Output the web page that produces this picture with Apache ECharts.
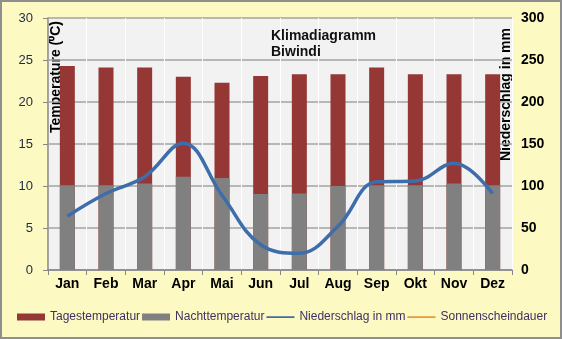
<!DOCTYPE html>
<html>
<head>
<meta charset="utf-8">
<script src="https://cdn.jsdelivr.net/npm/echarts@6/dist/echarts.min.js"></script>
<style>
  html, body { margin: 0; padding: 0; background: #fcf9c3; }
  #wrap { position: relative; width: 562px; height: 339px; }
  #chart { width: 562px; height: 339px; }
  #frame { position: absolute; left: 0; top: 0; width: 562px; height: 339px; box-sizing: border-box; border: 2px solid #8e8e8e; pointer-events: none; }
</style>
</head>
<body>
<div id="wrap"><div id="chart"></div><div id="frame"></div></div>
<script>
// Monthly climate values for Biwindi
const months = ['Jan', 'Feb', 'Mar', 'Apr', 'Mai', 'Jun', 'Jul', 'Aug', 'Sep', 'Okt', 'Nov', 'Dez'];
const dayTemp = [24.3, 24.1, 24.1, 23.0, 22.3, 23.1, 23.3, 23.3, 24.1, 23.3, 23.3, 23.3];
const nightTemp = [10.1, 10.1, 10.3, 11.1, 10.95, 9.05, 9.1, 10.0, 10.1, 10.1, 10.3, 10.1];
const precipitation = [64, 91, 111, 151, 89, 30, 20, 52, 105, 106, 127, 91];
const sunshine = [];
const tempTicks = [0, 5, 10, 15, 20, 25, 30];
const precipTicks = [0, 50, 100, 150, 200, 250, 300];

const chart = echarts.init(document.getElementById('chart'));
const legendFont = { fontFamily: 'Liberation Sans', fontSize: 12, color: '#3f3160' };
// thin stroke icon for line series; tiny corner specks keep the icon box 7px tall
const lineIcon = 'path://M0,0L0.01,0L0,0.01Z M0,2.8H28V4.4H0Z M28,7L27.99,7L28,6.99Z';

chart.setOption({
  backgroundColor: '#fcf9c3',
  animation: false,
  title: {
    text: 'Klimadiagramm\nBiwindi',
    left: 266,
    top: 23,
    textStyle: { fontFamily: 'Liberation Sans', fontSize: 14, fontWeight: 'bold', color: '#111', lineHeight: 16 }
  },
  grid: {
    left: 48, right: 50, top: 18, bottom: 69,
    show: true, backgroundColor: '#f2f2f2', borderWidth: 0
  },
  legend: {
    bottom: 16,
    left: 17,
    width: 545,
    padding: 0,
    itemGap: 2,
    itemWidth: 28,
    itemHeight: 7,
    textStyle: legendFont,
    data: [
      { name: 'Tagestemperatur', icon: 'rect' },
      { name: 'Nachttemperatur', icon: 'rect' },
      { name: 'Niederschlag in mm', icon: lineIcon },
      { name: 'Sonnenscheindauer', icon: lineIcon }
    ]
  },
  xAxis: {
    type: 'category',
    data: months,
    axisLine: { lineStyle: { color: '#868686', width: 1.5 } },
    axisTick: { show: true, length: 5, lineStyle: { color: '#868686' } },
    splitLine: { show: true, lineStyle: { color: '#ffffff', width: 1 } },
    axisLabel: { fontFamily: 'Liberation Sans', fontSize: 14, fontWeight: 'bold', color: '#000', margin: 7 }
  },
  yAxis: [
    {
      type: 'value', min: tempTicks[0], max: tempTicks[tempTicks.length - 1], interval: 5,
      axisLine: { show: true, lineStyle: { color: '#868686', width: 1.5 } },
      axisTick: { show: true, length: 5, lineStyle: { color: '#868686' } },
      splitLine: { lineStyle: { color: '#a3a3a3', width: 1.5 } },
      axisLabel: { fontFamily: 'Liberation Sans', fontSize: 13, color: '#1d2a48', margin: 15 }
    },
    {
      type: 'value', min: precipTicks[0], max: precipTicks[precipTicks.length - 1], interval: 50,
      axisLine: { show: false },
      axisTick: { show: false },
      splitLine: { show: false },
      axisLabel: { fontFamily: 'Liberation Sans', fontSize: 14, fontWeight: 'bold', color: '#000', margin: 9 }
    }
  ],
  graphic: [
    {
      type: 'text', x: 56, y: 21, rotation: Math.PI / 2,
      style: {
        text: 'Temperature (⁰C)', align: 'right', verticalAlign: 'middle',
        font: 'bold 14px "Liberation Sans"', fill: '#000'
      }
    },
    {
      type: 'text', x: 506, y: 28, rotation: Math.PI / 2,
      style: {
        text: 'Niederschlag in mm', align: 'right', verticalAlign: 'middle',
        font: 'bold 14px "Liberation Sans"', fill: '#000'
      }
    }
  ],
  series: [
    {
      name: 'Tagestemperatur', type: 'bar', data: dayTemp, barWidth: 15, barGap: '-100%',
      itemStyle: { color: '#953735' }
    },
    {
      name: 'Nachttemperatur', type: 'bar', data: nightTemp, barWidth: 15,
      itemStyle: { color: '#808080' }
    },
    {
      name: 'Niederschlag in mm', type: 'line', yAxisIndex: 1, data: precipitation,
      smooth: 0.4, symbol: 'none',
      lineStyle: { color: '#3d6eab', width: 3.5 }, itemStyle: { color: '#3d6eab' }
    },
    {
      name: 'Sonnenscheindauer', type: 'line', yAxisIndex: 1, data: sunshine,
      symbol: 'none',
      lineStyle: { color: '#e8993c', width: 2 }, itemStyle: { color: '#e8993c' }
    }
  ]
});
</script>
</body>
</html>
